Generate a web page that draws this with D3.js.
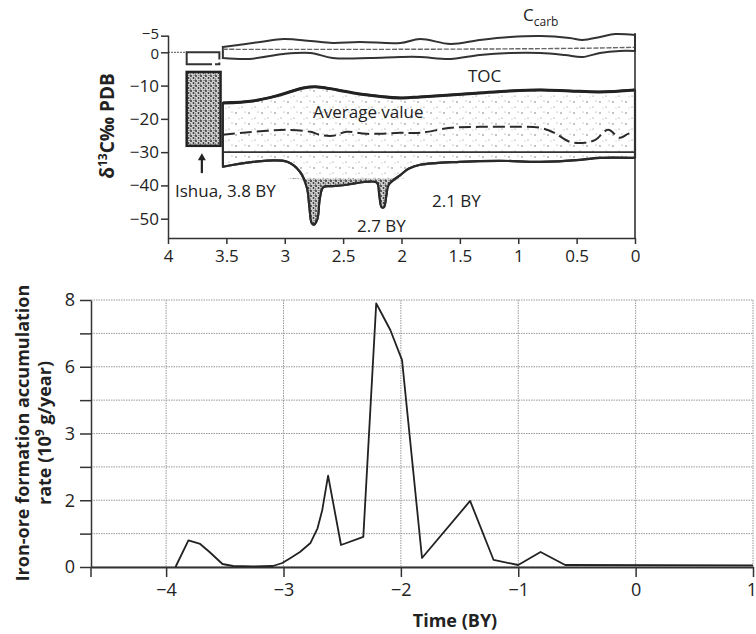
<!DOCTYPE html>
<html><head><meta charset="utf-8">
<script src="https://cdn.jsdelivr.net/npm/d3@7"></script>
<style>
body{margin:0;background:#fff}
svg{display:block}
text{font-family:"Open Sans",sans-serif;fill:#222}
</style>
</head><body>
<svg id="c" width="756" height="634"></svg>
<script>
// ---------- TOP PANEL DATA (δ13C, age in BY before present) ----------
const topTicksX = [4, 3.5, 3, 2.5, 2, 1.5, 1, 0.5, 0];
const topTickLabelsX = ["4", "3.5", "3", "2.5", "2", "1.5", "1", "0.5", "0"];
const topTicksY = [5, 0, -10, -20, -30, -40, -50];
const topTickLabelsY = ["\u22125", "0", "\u221210", "\u221220", "\u221230", "\u221240", "\u221250"];

const ccarbUpperAge = [3.53, 3.21, 3.01, 2.78, 2.59, 2.36, 2.01, 1.84, 1.58, 1.33, 1.07, 0.81, 0.56, 0.45, 0.30, 0.17, 0];
const ccarbUpper    = [1.6, 3.1, 4.0, 3.4, 2.8, 3.1, 2.8, 4.0, 2.5, 3.7, 4.6, 4.9, 4.3, 3.7, 4.6, 5.5, 5.2];
const ccarbLowerAge = [3.53, 3.30, 3.01, 2.78, 2.59, 2.27, 2.01, 1.84, 1.58, 1.33, 1.07, 0.81, 0.60, 0.45, 0.30, 0.13, 0];
const ccarbLower    = [-1.7, -2.0, -0.5, -0.2, -1.7, -1.7, -1.4, -1.4, -2.0, -0.8, -0.2, -0.2, -0.8, -1.4, -0.2, 0.4, 0.4];
const ccarbMidAge = [3.53, 2.0, 0.5, 0];
const ccarbMid    = [0.9, 0.9, 1.2, 1.5];

const tocUpperAge = [3.53, 3.27, 3.07, 2.84, 2.72, 2.55, 2.36, 2.01, 1.84, 1.58, 1.33, 1.07, 0.81, 0.56, 0.30, 0];
const tocUpper    = [-15.2, -14.6, -13.1, -10.7, -10.4, -11.3, -12.5, -13.7, -13.4, -12.8, -12.2, -11.6, -11.3, -11.6, -11.9, -11.3];
const tocLowerAge = [3.53, 3.27, 2.98, 2.87, 2.81, 2.79, 2.77, 2.75, 2.72, 2.70, 2.67, 2.59, 2.47, 2.30, 2.21, 2.19, 2.17, 2.15, 2.13, 2.11, 2.01, 1.94, 1.84, 1.50, 1.16, 0.81, 0.47, 0.30, 0];
const tocLower    = [-34.4, -32.9, -32.9, -35.9, -40.7, -46.0, -51.2, -51.8, -50.0, -44.0, -40.5, -40.2, -39.8, -38.9, -39.2, -43.0, -46.5, -46.5, -43.0, -39.8, -36.9, -35.0, -33.8, -32.9, -32.6, -32.9, -32.3, -31.7, -31.7];

const avgAge = [3.53, 3.36, 3.15, 2.98, 2.78, 2.70, 2.59, 2.47, 2.30, 2.01, 1.84, 1.58, 1.33, 1.07, 0.81, 0.69, 0.56, 0.43, 0.34, 0.23, 0.13, 0.06, 0];
const avgVal = [-24.8, -24.2, -23.6, -23.3, -23.9, -24.8, -25.1, -23.9, -24.5, -24.2, -24.2, -22.7, -22.4, -22.4, -22.7, -24.2, -26.9, -27.2, -26.3, -23.3, -25.7, -24.5, -23.9];

const lineMinus30Age = [3.53, 0];
const lineMinus30 = [-30, -30];

const ishuaAge = [3.84, 3.55];
const ishuaVal = [-5.9, -28.1];
const carbBoxAge = [3.84, 3.56];
const carbBoxVal = [0, -3.6];

// ---------- BOTTOM PANEL DATA ----------
const timeTicks = [-4, -3, -2, -1, 0, 1];
const timeTickLabels = ["\u22124", "\u22123", "\u22122", "\u22121", "0", "1"];
const rateTickValues = [0, 2, 3, 6, 8];
const rateTickLabels = ["0", "2", "3", "6", "8"];
const rateGridValues = [0, 1, 2, 2.5, 3, 4.5, 6, 7, 8];

const timeBY = [-3.92, -3.81, -3.71, -3.63, -3.52, -3.43, -3.26, -3.09, -3.01, -2.94, -2.86, -2.77, -2.71, -2.67, -2.62, -2.51, -2.32, -2.21, -2.18, -2.09, -1.99, -1.82, -1.41, -1.21, -1.00, -0.81, -0.60, 1.00];
const rate   = [0, 0.80, 0.69, 0.45, 0.09, 0.03, 0.02, 0.03, 0.12, 0.27, 0.45, 0.72, 1.16, 1.70, 2.37, 0.66, 0.90, 7.90, 7.70, 7.10, 6.20, 0.27, 1.98, 0.21, 0.06, 0.45, 0.06, 0.05];

// ---------- DRAW ----------
const svg = d3.select("#c");
const zip = (a, b) => a.map((d, i) => [d, b[i]]);

// defs: stipple patterns
const defs = svg.append("defs");
const sparse = defs.append("pattern").attr("id", "sparse").attr("patternUnits", "userSpaceOnUse")
  .attr("width", 13).attr("height", 11);
sparse.append("rect").attr("width", 13).attr("height", 11).attr("fill", "#fff");
[[2, 3, 0.8], [8, 8, 0.6], [11, 2, 0.5], [5, 9, 0.45]].forEach(p =>
  sparse.append("circle").attr("cx", p[0]).attr("cy", p[1]).attr("r", p[2]).attr("fill", "#777"));
const dense = defs.append("pattern").attr("id", "dense").attr("patternUnits", "userSpaceOnUse")
  .attr("width", 5).attr("height", 5);
dense.append("rect").attr("width", 5).attr("height", 5).attr("fill", "#cfcfcf");
[[1, 1, 1.0], [3.5, 3, 0.9], [0.5, 4, 0.6], [4, 0.5, 0.5]].forEach(p =>
  dense.append("circle").attr("cx", p[0]).attr("cy", p[1]).attr("r", p[2]).attr("fill", "#333"));

// ===== TOP PANEL =====
const xT = d3.scaleLinear().domain([4, 0]).range([168, 635]);
const yT = d3.scaleLinear().domain([-55.8, 5.2]).range([238, 35]);
const lineT = d3.line().x(d => xT(d[0])).y(d => yT(d[1])).curve(d3.curveCatmullRom.alpha(0.5));
const lineLin = d3.line().x(d => xT(d[0])).y(d => yT(d[1]));

const gT = svg.append("g");

// zero reference dotted line
gT.append("path").attr("d", lineLin([[4, 0], [3.84, 0]]))
  .attr("stroke", "#777").attr("stroke-width", 1.2).attr("stroke-dasharray", "2,1").attr("fill", "none");

// carbonate small box (Ishua)
gT.append("rect")
  .attr("x", xT(carbBoxAge[0])).attr("y", yT(carbBoxVal[0]))
  .attr("width", xT(carbBoxAge[1]) - xT(carbBoxAge[0]))
  .attr("height", yT(carbBoxVal[1]) - yT(carbBoxVal[0]))
  .attr("fill", "none").attr("stroke", "#333").attr("stroke-width", 2)
  .attr("stroke-dasharray", "40,3,6,3");

// Ccarb band
const cu = zip(ccarbUpperAge, ccarbUpper);
const cl = zip(ccarbLowerAge, ccarbLower).reverse();
gT.append("path")
  .attr("d", lineT(cu) + "L" + lineT(cl).slice(1) + "Z")
  .attr("fill", "none").attr("stroke", "#333").attr("stroke-width", 2);
gT.append("path").attr("d", lineT(zip(ccarbMidAge, ccarbMid)))
  .attr("fill", "none").attr("stroke", "#666").attr("stroke-width", 1.4).attr("stroke-dasharray", "5,1.5");

// TOC band
const tu = zip(tocUpperAge, tocUpper);
const tl = zip(tocLowerAge, tocLower).reverse();
gT.append("path")
  .attr("d", lineT(tu) + "L" + lineT(tl).slice(1) + "Z")
  .attr("fill", "url(#sparse)").attr("stroke", "#2a2a2a").attr("stroke-width", 2.2)
  .attr("stroke-linejoin", "round");

// dense stipple along spikes
const spikeArea = d3.area().x(d => xT(d[0])).y0(yT(-38)).y1(d => yT(Math.min(d[1], -38)))
  .curve(d3.curveCatmullRom.alpha(0.5));
gT.append("path").attr("d", spikeArea(zip(tocLowerAge, tocLower)))
  .attr("fill", "url(#dense)").attr("stroke", "none");
gT.append("path").attr("d", lineT(zip(tocLowerAge, tocLower)))
  .attr("fill", "none").attr("stroke", "#2a2a2a").attr("stroke-width", 2.2);
// darker upper edge
gT.append("path").attr("d", lineT(tu))
  .attr("fill", "none").attr("stroke", "#222").attr("stroke-width", 3);

// -30 line
gT.append("path").attr("d", lineLin(zip(lineMinus30Age, lineMinus30)))
  .attr("stroke", "#333").attr("stroke-width", 1.6).attr("fill", "none");

// average value dashed line
gT.append("path").attr("d", lineT(zip(avgAge, avgVal)))
  .attr("fill", "none").attr("stroke", "#2a2a2a").attr("stroke-width", 2)
  .attr("stroke-dasharray", "12,5");

// Ishua box
gT.append("rect")
  .attr("x", xT(ishuaAge[0])).attr("y", yT(ishuaVal[0]))
  .attr("width", xT(ishuaAge[1]) - xT(ishuaAge[0]))
  .attr("height", yT(ishuaVal[1]) - yT(ishuaVal[0]))
  .attr("fill", "url(#dense)").attr("stroke", "#222").attr("stroke-width", 2.5);

// arrow
const ax = xT(3.71);
gT.append("line").attr("x1", ax).attr("x2", ax).attr("y1", yT(-36.3)).attr("y2", yT(-31.5))
  .attr("stroke", "#222").attr("stroke-width", 2.2);
gT.append("path")
  .attr("d", `M${ax},${yT(-30.3)} L${ax - 4},${yT(-32.4)} L${ax + 4},${yT(-32.4)} Z`)
  .attr("fill", "#222");

// axes
const axL = gT.append("g").attr("transform", "translate(168,0)")
  .call(d3.axisLeft(yT).tickValues(topTicksY).tickFormat((d, i) => topTickLabelsY[i])
    .tickSize(7).tickSizeOuter(0).tickPadding(2));
const axB = gT.append("g").attr("transform", "translate(0,238)")
  .call(d3.axisBottom(xT).tickValues(topTicksX).tickFormat((d, i) => topTickLabelsX[i])
    .tickSize(6).tickSizeOuter(0).tickPadding(6));
[axL, axB].forEach(a => {
  a.selectAll("path,line").attr("stroke", "#333").attr("stroke-width", 1.5);
  a.selectAll("text").style("font-size", "17px").style("font-family", '"Open Sans",sans-serif').attr("fill", "#222");
});
// the two closely spaced top labels: slightly smaller and nudged apart
axL.selectAll(".tick").filter(d => d === 5).select("text").style("font-size", "15px").attr("dy", "0.2em");
axL.selectAll(".tick").filter(d => d === 0).select("text").style("font-size", "15px").attr("dy", "0.42em");
gT.append("line").attr("x1", 635).attr("x2", 635).attr("y1", 33).attr("y2", 238)
  .attr("stroke", "#333").attr("stroke-width", 1.6);

// top labels
const ylabT = gT.append("text").attr("transform", "translate(114,126) rotate(-90)")
  .attr("text-anchor", "middle").style("font-size", "19px").style("font-weight", "bold");
ylabT.append("tspan").text("\u03b4");
ylabT.append("tspan").attr("dy", -7).style("font-size", "12px").text("13");
ylabT.append("tspan").attr("dy", 7).text("C\u2030 PDB");

const cc = gT.append("text").attr("x", 523).attr("y", 21).style("font-size", "17px");
cc.append("tspan").text("C");
cc.append("tspan").attr("dy", 5).style("font-size", "12px").text("carb");
gT.append("text").attr("x", 468).attr("y", 82).style("font-size", "17px").text("TOC");
gT.append("text").attr("x", 313).attr("y", 118).style("font-size", "17px").text("Average value");
gT.append("text").attr("x", 175).attr("y", 197).style("font-size", "17px").text("Ishua, 3.8 BY");
gT.append("text").attr("x", 357).attr("y", 232).style("font-size", "17px").text("2.7 BY");
gT.append("text").attr("x", 432).attr("y", 207).style("font-size", "17px").text("2.1 BY");

// ===== BOTTOM PANEL =====
const xB = d3.scaleLinear().domain([-4.64, 1]).range([91, 753]);
const yB = d3.scaleLinear().domain(rateTickValues).range(rateTickValues.map((d, i) => 567 - i * 66.75));
const gB = svg.append("g");

// grid
gB.selectAll(".hg").data(rateGridValues).join("line")
  .attr("x1", 91).attr("x2", 753).attr("y1", d => yB(d)).attr("y2", d => yB(d))
  .attr("stroke", "#9a9a9a").attr("stroke-width", 1).attr("stroke-dasharray", "1.5,1");
gB.selectAll(".vg").data(timeTicks).join("line")
  .attr("x1", d => xB(d)).attr("x2", d => xB(d)).attr("y1", yB(8)).attr("y2", yB(0))
  .attr("stroke", "#9a9a9a").attr("stroke-width", 1).attr("stroke-dasharray", "1.5,1");

// axes
const bL = gB.append("g").attr("transform", "translate(91,0)")
  .call(d3.axisLeft(yB).tickValues(rateGridValues)
    .tickFormat(d => { const i = rateTickValues.indexOf(d); return i >= 0 ? rateTickLabels[i] : ""; })
    .tickSize(11).tickSizeOuter(0).tickPadding(5));
const bB = gB.append("g").attr("transform", "translate(0,567)")
  .call(d3.axisBottom(xB).tickValues(timeTicks).tickFormat((d, i) => timeTickLabels[i])
    .tickSize(10).tickSizeOuter(0).tickPadding(6));
[bL, bB].forEach(a => {
  a.selectAll("path,line").attr("stroke", "#333").attr("stroke-width", 1.5);
  a.selectAll("text").style("font-size", "18px").style("font-family", '"Open Sans",sans-serif').attr("fill", "#222");
});
bB.select(".domain").attr("stroke-width", 2);
// keep the last label inside the picture
bB.selectAll(".tick").filter(d => d === 1).select("text").attr("text-anchor", "end").attr("dx", "0.2em");
gB.append("line").attr("x1", 91).attr("x2", 91).attr("y1", 567).attr("y2", 577)
  .attr("stroke", "#333").attr("stroke-width", 1.5);

// data line
gB.append("path")
  .attr("d", d3.line().x(d => xB(d[0])).y(d => yB(d[1]))(zip(timeBY, rate)))
  .attr("fill", "none").attr("stroke", "#222").attr("stroke-width", 1.8).attr("stroke-linejoin", "round");

// labels
gB.append("text").attr("transform", "translate(29,433) rotate(-90)").attr("text-anchor", "middle")
  .style("font-size", "18px").style("font-weight", "bold").text("Iron-ore formation accumulation");
const yl2 = gB.append("text").attr("transform", "translate(51,433) rotate(-90)").attr("text-anchor", "middle")
  .style("font-size", "18px").style("font-weight", "bold");
yl2.append("tspan").text("rate (10");
yl2.append("tspan").attr("dy", -7).style("font-size", "12px").text("9");
yl2.append("tspan").attr("dy", 7).text(" g/year)");
gB.append("text").attr("x", 455).attr("y", 627).attr("text-anchor", "middle")
  .style("font-size", "18px").style("font-weight", "bold").text("Time (BY)");
</script>
</body></html>
